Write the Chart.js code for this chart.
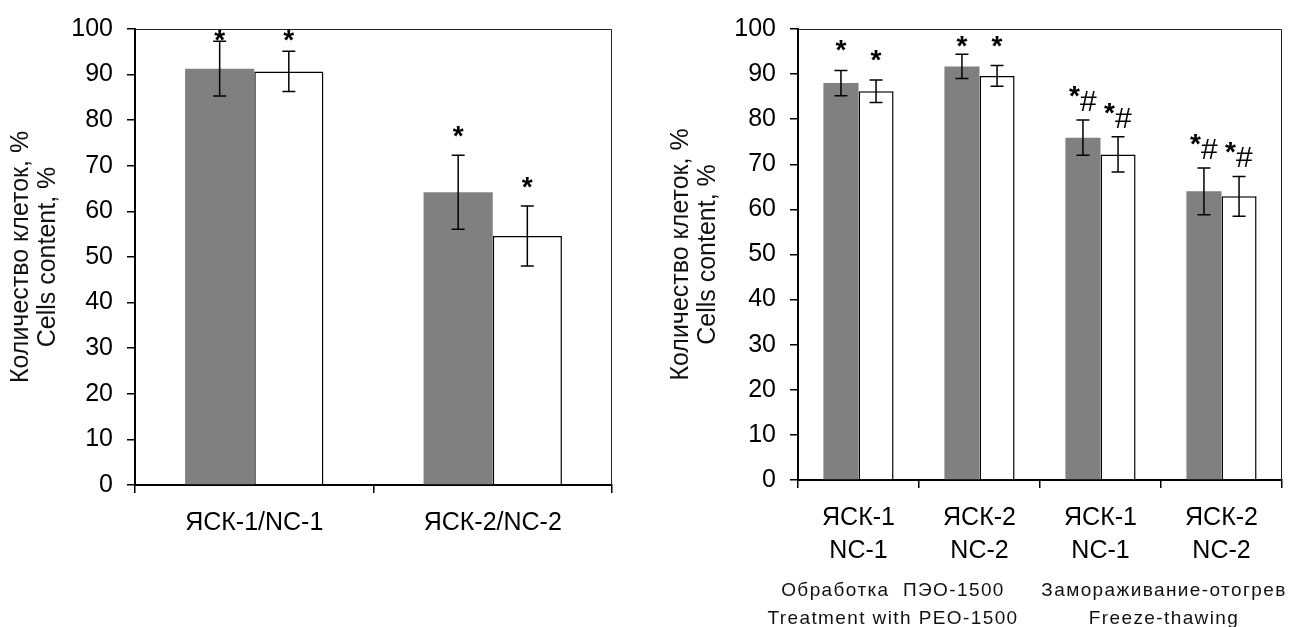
<!DOCTYPE html>
<html>
<head>
<meta charset="utf-8">
<script src="https://cdn.jsdelivr.net/npm/chart.js@4/dist/chart.umd.min.js"></script>
<style>
  body { margin: 0; background: #fff; }
  .box { position: absolute; top: 0; height: 627px; }
</style>
</head>
<body>
<div class="box" style="left:0;width:650px"><canvas id="chartLeft"></canvas></div>
<div class="box" style="left:650px;width:648px"><canvas id="chartRight"></canvas></div>
<script>
// left panel
const leftCategories = ["ЯСК-1/NC-1", "ЯСК-2/NC-2"];
const leftGrey = [91.3, 64.2];
const leftGreyErr = [6.0, 8.1];
const leftWhite = [90.7, 54.6];
const leftWhiteErr = [4.4, 6.6];
const leftGreyMarks = ["*", "*"];
const leftWhiteMarks = ["*", "*"];

// right panel
const rightCategories = [["ЯСК-1", "NC-1"], ["ЯСК-2", "NC-2"], ["ЯСК-1", "NC-1"], ["ЯСК-2", "NC-2"]];
const rightGrey = [88.0, 91.7, 75.9, 64.0];
const rightGreyErr = [2.8, 2.7, 3.9, 5.2];
const rightWhite = [86.2, 89.6, 72.2, 62.9];
const rightWhiteErr = [2.5, 2.3, 3.9, 4.4];
const rightGreyMarks = ["*", "*", "*#", "*#"];
const rightWhiteMarks = ["*", "*", "*#", "*#"];
const rightGroups = [
  ["Обработка  ПЭО-1500", "Treatment with PEO-1500"],
  ["Замораживание-отогрев", "Freeze-thawing"],
];

const yTitle = ["Количество клеток, %", "Cells content, %"];
const yMin = 0;
const yMax = 100;
const yStep = 10;

const FONT = "'Liberation Sans', Arial, sans-serif";

function drawMark(ctx, text, x, yHi, minTop, o) {
  ctx.fillStyle = "#000";
  ctx.textAlign = "left";
  ctx.textBaseline = "alphabetic";
  ctx.font = "bold 28px " + FONT;
  const s = ctx.measureText("*");
  const sw = s.actualBoundingBoxLeft + s.actualBoundingBoxRight;
  if (text === "*") {
    let base = yHi - o.starGap - s.actualBoundingBoxDescent;
    base = Math.max(base, minTop + s.actualBoundingBoxAscent);
    ctx.fillText("*", x - sw / 2 + s.actualBoundingBoxLeft, base);
    return;
  }
  ctx.font = "30px " + FONT;
  const h = ctx.measureText("#");
  const hw = h.actualBoundingBoxLeft + h.actualBoundingBoxRight;
  const hBase = yHi - o.hashGap - h.actualBoundingBoxDescent;
  const hTop = hBase - h.actualBoundingBoxAscent;
  const start = x - (sw + hw) / 2;
  ctx.fillText("#", start + sw + h.actualBoundingBoxLeft, hBase);
  ctx.font = "bold 28px " + FONT;
  ctx.fillText("*", start + s.actualBoundingBoxLeft, hTop - 5 + s.actualBoundingBoxAscent);
}

const errorBars = {
  id: "errorBars",
  afterDatasetsDraw(chart, args, opts) {
    const ctx = chart.ctx;
    const y = chart.scales.y;
    const minTop = chart.chartArea.top + opts.minTop;
    chart.data.datasets.forEach((ds, i) => {
      chart.getDatasetMeta(i).data.forEach((bar, j) => {
        const yHi = y.getPixelForValue(ds.data[j] + ds.errors[j]);
        const yLo = y.getPixelForValue(ds.data[j] - ds.errors[j]);
        ctx.save();
        ctx.strokeStyle = "#000";
        ctx.lineWidth = 1.5;
        ctx.beginPath();
        ctx.moveTo(bar.x, yHi); ctx.lineTo(bar.x, yLo);
        ctx.moveTo(bar.x - 6.5, yHi); ctx.lineTo(bar.x + 6.5, yHi);
        ctx.moveTo(bar.x - 6.5, yLo); ctx.lineTo(bar.x + 6.5, yLo);
        ctx.stroke();
        drawMark(ctx, ds.marks[j], bar.x, yHi, minTop, opts);
        ctx.restore();
      });
    });
  },
};

const frame = {
  id: "frame",
  beforeDatasetsDraw(chart) {
    const { ctx, chartArea: a } = chart;
    ctx.save();
    ctx.strokeStyle = "#222";
    ctx.lineWidth = 1;
    ctx.beginPath();
    ctx.moveTo(a.left, a.top + 0.5);
    ctx.lineTo(a.right - 0.5, a.top + 0.5);
    ctx.lineTo(a.right - 0.5, a.bottom);
    ctx.stroke();
    ctx.restore();
  },
};

const groupLabels = {
  id: "groupLabels",
  afterDraw(chart, args, opts) {
    if (!opts.groups) return;
    const ctx = chart.ctx;
    const x = chart.scales.x;
    ctx.save();
    ctx.fillStyle = "#111";
    ctx.font = "19px " + FONT;
    ctx.letterSpacing = "1.4px";
    ctx.textAlign = "center";
    ctx.textBaseline = "middle";
    opts.groups.forEach((lines, g) => {
      const cx = (x.getPixelForValue(2 * g) + x.getPixelForValue(2 * g + 1)) / 2 + opts.shift[g];
      lines.forEach((t, k) => ctx.fillText(t, cx, opts.lineY[k]));
    });
    ctx.restore();
  },
};

function makeChart(id, labels, grey, greyErr, greyMarks, white, whiteErr, whiteMarks, box) {
  return new Chart(document.getElementById(id), {
    type: "bar",
    data: {
      labels: labels,
      datasets: [
        {
          data: grey,
          errors: greyErr,
          marks: greyMarks,
          backgroundColor: "#808080",
          borderWidth: 0,
        },
        {
          data: white,
          errors: whiteErr,
          marks: whiteMarks,
          backgroundColor: "#fff",
          borderColor: "#000",
          borderWidth: 1.5,
        },
      ],
    },
    options: {
      responsive: true,
      maintainAspectRatio: false,
      animation: false,
      datasets: { bar: { categoryPercentage: 0.58, barPercentage: 1 } },
      layout: { padding: { top: box.top, right: box.right, left: 0, bottom: 0 } },
      plugins: {
        legend: { display: false },
        tooltip: { enabled: false },
        errorBars: box.marks,
        groupLabels: box.groups || {},
      },
      scales: {
        x: {
          afterFit: (s) => { s.height = box.xHeight; },
          border: { color: "#000", width: 2 },
          grid: { drawOnChartArea: false, tickLength: 8, color: "#000", lineWidth: 1.5 },
          ticks: {
            color: "#000",
            padding: box.xPad,
            maxRotation: 0,
            font: { family: FONT, size: 25, lineHeight: box.xLine },
          },
        },
        y: {
          min: yMin,
          max: yMax,
          afterFit: (s) => { s.width = box.yWidth; },
          border: { color: "#000", width: 2 },
          grid: { drawOnChartArea: false, tickLength: 8, color: "#000", lineWidth: 1.5 },
          ticks: {
            stepSize: yStep,
            color: "#000",
            padding: 14,
            font: { family: FONT, size: 25 },
          },
          title: {
            display: true,
            text: yTitle,
            color: "#111",
            padding: { top: box.titlePad, bottom: 0 },
            font: { family: FONT, size: 25, lineHeight: 1.08 },
          },
        },
      },
    },
    plugins: [frame, errorBars, groupLabels],
  });
}

makeChart("chartLeft", leftCategories, leftGrey, leftGreyErr, leftGreyMarks,
  leftWhite, leftWhiteErr, leftWhiteMarks, {
    top: 22, right: 38, xHeight: 142, yWidth: 135, xPad: 15, xLine: 1.2, titlePad: 7.3,
    marks: { starGap: 18, hashGap: 9, minTop: 1 },
  });

makeChart("chartRight", rightCategories, rightGrey, rightGreyErr, rightGreyMarks,
  rightWhite, rightWhiteErr, rightWhiteMarks, {
    top: 24, right: 16, xHeight: 147, yWidth: 148, xPad: 13.5, xLine: 1.32, titlePad: 17.5,
    marks: { starGap: 19, hashGap: 9, minTop: 7 },
    groups: { groups: rightGroups, shift: [-26, 3], lineY: [591, 619] },
  });
</script>
</body>
</html>
